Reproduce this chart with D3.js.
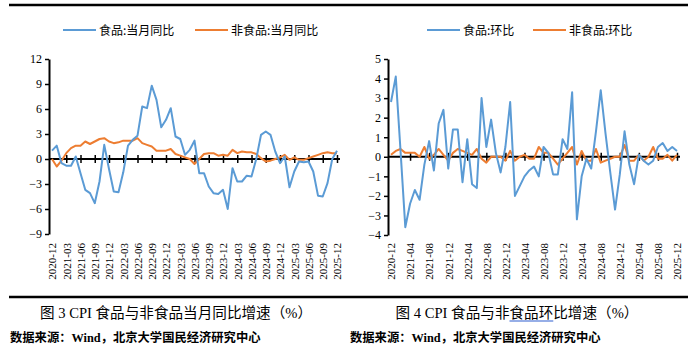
<!DOCTYPE html>
<html lang="zh">
<head>
<meta charset="UTF-8">
<title>CPI 食品与非食品</title>
<script src="https://cdn.jsdelivr.net/npm/d3@7"></script>
<style>
    body { margin: 0; background: #fff; }
    svg { display: block; }
    .num { font-family: "Liberation Serif", "Times New Roman", serif; }
    .cjk { font-family: "Noto Sans CJK SC", sans-serif; }
</style>
</head>
<body>
<svg id="canvas" width="695" height="350"></svg>
<script>
// months 2020-12 .. 2025-12
const months = [
    "2020-12",
    "2021-01","2021-02","2021-03","2021-04","2021-05","2021-06","2021-07","2021-08","2021-09","2021-10","2021-11","2021-12",
    "2022-01","2022-02","2022-03","2022-04","2022-05","2022-06","2022-07","2022-08","2022-09","2022-10","2022-11","2022-12",
    "2023-01","2023-02","2023-03","2023-04","2023-05","2023-06","2023-07","2023-08","2023-09","2023-10","2023-11","2023-12",
    "2024-01","2024-02","2024-03","2024-04","2024-05","2024-06","2024-07","2024-08","2024-09","2024-10","2024-11","2024-12",
    "2025-01","2025-02","2025-03","2025-04","2025-05","2025-06","2025-07","2025-08","2025-09","2025-10","2025-11","2025-12"
];

// left chart: 当月同比
const foodYoY = [
    1.0,
    1.6, -0.5, -0.8, -0.8, 0.3, -1.7, -3.7, -4.1, -5.3, -2.7, 1.7, -1.2,
    -3.9, -4.0, -1.6, 1.6, 2.3, 2.8, 6.3, 6.1, 8.8, 7.1, 3.8, 4.7,
    6.1, 2.7, 2.4, 0.5, 1.1, 2.2, -1.7, -1.7, -3.3, -4.1, -4.2, -3.7,
    -6.0, -1.1, -2.7, -2.7, -2.0, -2.1, 0.0, 2.9, 3.3, 2.9, 0.9, -0.5,
    0.3, -3.4, -1.5, -0.3, -0.4, -0.3, -1.5, -4.4, -4.5, -2.9, 0.0, 1.0
];
const nonFoodYoY = [
    0.0,
    -0.9, -0.2, 0.7, 1.3, 1.6, 1.6, 2.1, 1.8, 2.1, 2.4, 2.5, 2.1,
    1.9, 2.0, 2.2, 2.2, 2.2, 2.5, 1.9, 1.7, 1.5, 1.0, 1.0, 1.0,
    1.2, 0.6, 0.4, 0.2, 0.0, -0.6, 0.0, 0.6, 0.7, 0.7, 0.4, 0.5,
    0.4, 1.1, 0.7, 0.9, 0.8, 0.8, 0.6, 0.1, -0.3, -0.2, 0.0, 0.2,
    0.5, -0.1, 0.2, -0.1, -0.1, 0.1, 0.3, 0.5, 0.7, 0.8, 0.7, 0.7
];

// right chart: 环比
const foodMoM = [
    2.8,
    4.1, 0.3, -3.6, -2.4, -1.7, -2.2, -0.4, 0.8, -0.7, 1.7, 2.4, -0.6,
    1.4, 1.4, -1.3, 0.9, -1.4, -1.6, 3.0, 0.5, 1.9, 0.2, -0.8, 0.5,
    2.8, -2.0, -1.5, -1.0, -0.7, -0.5, -1.0, 0.5, 0.2, -0.9, -0.9, 0.9,
    0.4, 3.3, -3.2, -1.0, -0.1, -0.6, 1.3, 3.4, 1.2, -0.8, -2.7, -0.9,
    1.3, -0.4, -1.4, 0.1, -0.2, -0.4, -0.2, 0.5, 0.7, 0.3, 0.5, 0.3
];
const nonFoodMoM = [
    0.1,
    0.3, 0.4, 0.2, 0.2, 0.2, 0.0, 0.5, -0.1, 0.1, 0.4, 0.1, -0.2,
    0.2, 0.4, 0.3, 0.2, 0.1, 0.4, -0.1, -0.3, 0.0, 0.0, 0.0, -0.2,
    0.3, -0.2, 0.0, 0.1, -0.1, -0.1, 0.5, 0.2, 0.2, -0.1, -0.4, -0.1,
    0.2, 0.5, -0.4, 0.3, -0.2, -0.2, 0.4, -0.3, -0.2, -0.1, 0.0, 0.0,
    0.6, -0.2, -0.2, 0.1, -0.2, 0.0, 0.5, -0.1, -0.1, 0.1, -0.2, 0.1
];

const leftTicks = ["2020-12","2021-03","2021-06","2021-09","2021-12","2022-03","2022-06","2022-09","2022-12",
    "2023-03","2023-06","2023-09","2023-12","2024-03","2024-06","2024-09","2024-12","2025-03","2025-06","2025-09","2025-12"];
const rightTicks = ["2020-12","2021-04","2021-08","2021-12","2022-04","2022-08","2022-12","2023-04","2023-08",
    "2023-12","2024-04","2024-08","2024-12","2025-04","2025-08","2025-12"];
const leftYTicks = [-9, -6, -3, 0, 3, 6, 9, 12];
const rightYTicks = [-4, -3, -2, -1, 0, 1, 2, 3, 4, 5];

const leftNames = ["食品:当月同比", "非食品:当月同比"];
const rightNames = ["食品:环比", "非食品:环比"];
const captions = ["图 3 CPI 食品与非食品当月同比增速（%）", "图 4 CPI 食品与非食品环比增速（%）"];
const source = "数据来源：Wind，北京大学国民经济研究中心";

const blue = "#5b9bd5", orange = "#ed7d31";

let svg = d3.select("#canvas");

// frame lines
svg.append("line").attr("x1", 9).attr("x2", 688).attr("y1", 5).attr("y2", 5)
    .attr("stroke", "#000").attr("stroke-width", 2.5);
svg.append("line").attr("x1", 9).attr("x2", 688).attr("y1", 297).attr("y2", 297)
    .attr("stroke", "#000").attr("stroke-width", 2.5);

function drawPanel(opt) {
    let g = svg.append("g");
    let x = d3.scalePoint().domain(months).range(opt.xRange);
    let y = d3.scaleLinear().domain(opt.yDomain).range(opt.yRange);

    // y axis
    let ya = g.append("g").attr("transform", `translate(${opt.axisX},0)`)
        .call(d3.axisLeft(y).tickValues(opt.yTicks).tickSizeInner(4).tickSizeOuter(0).tickPadding(3));
    ya.select(".domain").attr("stroke-width", 2);
    ya.selectAll(".tick line").attr("stroke-width", 1.5);
    ya.selectAll("text").attr("class", "num").attr("font-size", 12).attr("fill", "#000");

    // zero line with crossing ticks
    let za = g.append("g").attr("transform", `translate(0,${y(0)})`)
        .call(d3.axisBottom(x).tickValues(opt.xTicks.slice(1)).tickSize(4).tickFormat(""));
    za.select(".domain").attr("d", `M${opt.axisX},0H${opt.axisEnd}`).attr("stroke-width", 2);
    za.selectAll(".tick line").attr("y1", -4).attr("stroke-width", 1.5);

    // month labels
    let la = g.append("g").attr("transform", `translate(0,${opt.labelY})`)
        .call(d3.axisBottom(x).tickValues(opt.xTicks).tickSize(0));
    la.select(".domain").remove();
    la.selectAll("text")
        .attr("class", "num").attr("font-size", 11).attr("fill", "#000")
        .attr("transform", "rotate(-90)")
        .attr("text-anchor", "end")
        .attr("x", -1).attr("y", 0).attr("dy", "0.35em");

    // lines
    let line = d3.line().x((d, i) => x(months[i])).y(d => y(d));
    [[opt.series[1], orange], [opt.series[0], blue]].forEach(([s, c]) => {
        g.append("path").datum(s)
            .attr("fill", "none").attr("stroke", c).attr("stroke-width", 2)
            .attr("stroke-linejoin", "round").attr("d", line);
    });

    // legend
    opt.legend.forEach((it, i) => {
        g.append("line").attr("x1", it.x).attr("x2", it.x + 33).attr("y1", 30).attr("y2", 30)
            .attr("stroke", i ? orange : blue).attr("stroke-width", 2);
        g.append("text").attr("class", "cjk").attr("x", it.x + 36).attr("y", 34.5)
            .attr("font-size", 12).text(opt.names[i]);
    });
}

drawPanel({
    xRange: [52, 337], axisX: 49, axisEnd: 340,
    yDomain: [-9, 12], yRange: [234, 59], yTicks: leftYTicks,
    xTicks: leftTicks, labelY: 242,
    series: [foodYoY, nonFoodYoY], names: leftNames,
    legend: [{x: 63}, {x: 195}]
});
drawPanel({
    xRange: [391, 677], axisX: 388, axisEnd: 680,
    yDomain: [-4, 5], yRange: [235, 59], yTicks: rightYTicks,
    xTicks: rightTicks, labelY: 242,
    series: [foodMoM, nonFoodMoM], names: rightNames,
    legend: [{x: 427}, {x: 533}]
});

// captions
let capFont = '"Liberation Serif", "Noto Sans CJK SC", serif';
let cap1 = svg.append("text").attr("x", 176).attr("y", 318).attr("text-anchor", "middle")
    .attr("font-family", capFont).attr("font-size", 14.6).text(captions[0]);
let cap2 = svg.append("text").attr("x", 517).attr("y", 318).attr("text-anchor", "middle")
    .attr("font-family", capFont).attr("font-size", 14.6).text(captions[1]);

// blue underline under 食品环 in the second caption
let n2 = cap2.node();
let start = captions[1].indexOf("食品环");
let b0 = n2.getExtentOfChar(start), b1 = n2.getExtentOfChar(start + 2);
svg.append("line").attr("x1", b0.x).attr("x2", b1.x + b1.width).attr("y1", 321).attr("y2", 321)
    .attr("stroke", "#2f5fd0").attr("stroke-width", 1.2);

svg.append("text").attr("x", 10).attr("y", 342).attr("font-family", capFont)
    .attr("font-size", 12.3).attr("font-weight", "bold").text(source);
svg.append("text").attr("x", 350).attr("y", 342).attr("font-family", capFont)
    .attr("font-size", 12.3).attr("font-weight", "bold").text(source);
</script>
</body>
</html>
